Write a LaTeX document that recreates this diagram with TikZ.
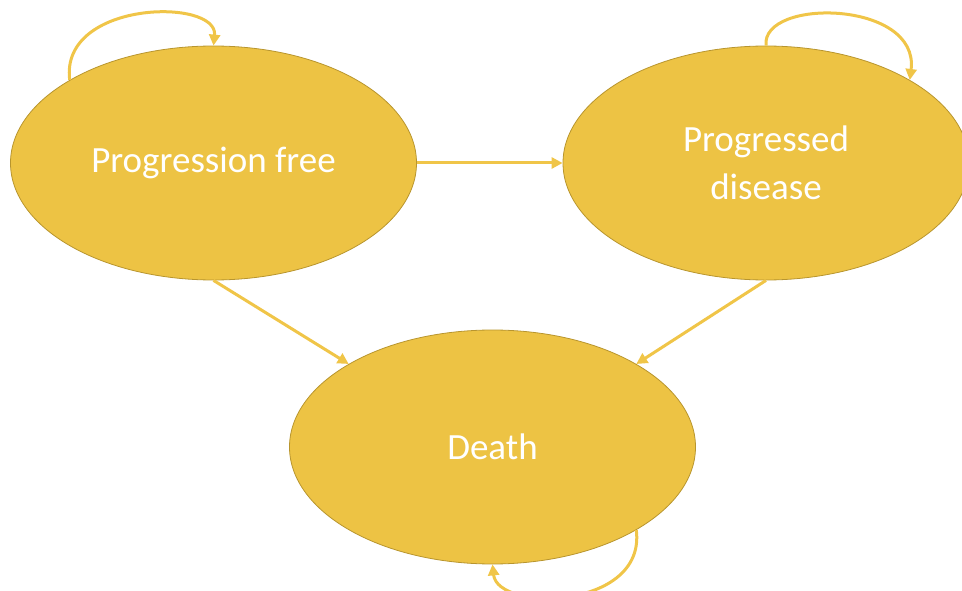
\documentclass[tikz,border=0pt]{standalone}
\usepackage{fontspec}
\setmainfont{Carlito}
\usetikzlibrary{shapes.geometric,arrows.meta}
\definecolor{stfill}{HTML}{EDC344}
\definecolor{stborder}{HTML}{B8952E}
\definecolor{arr}{HTML}{F0C548}
\tikzset{
  state/.style={ellipse, fill=stfill, draw=stborder, line width=0.8pt,
    minimum width=406pt, minimum height=234pt, inner sep=0pt,
    text=white, font=\fontsize{37}{48}\selectfont, align=center},
  trans/.style={draw=arr, line width=3pt,
    -{Triangle[length=11pt,width=11pt]}, shorten >=0pt}
}
\begin{document}
\begin{tikzpicture}[x=1pt,y=-1pt]
\useasboundingbox (0,0) rectangle (962,591);
\node[state] (pf) at (213.5,163) {Progression free};
\node[state] (pd) at (766,163) {Progressed\\disease};
\node[state] (de) at (492.5,447) {Death};
\draw[trans] (pf.east) -- (pd.west);
\draw[trans] (pf.south) -- (de.150);
\draw[trans] (pd.south) -- (de.30);
\draw[trans] (pf.150) .. controls +(-10,-80) and +(5,-48) .. (pf.north);
\draw[trans] (pd.north) .. controls +(-5,-48) and +(10,-80) .. (pd.30);
\draw[trans] (de.-30) .. controls +(10,80) and +(5,48) .. (de.south);
\end{tikzpicture}
\end{document}
